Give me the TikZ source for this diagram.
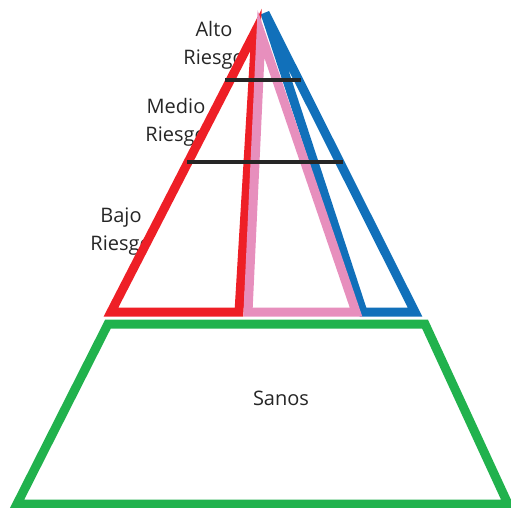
\documentclass[tikz,border=0pt]{standalone}
\usepackage{fontspec}
\setmainfont{Open Sans}
\definecolor{cred}{HTML}{EE1F26}
\definecolor{cpink}{HTML}{E78FBD}
\definecolor{cblue}{HTML}{1170BA}
\definecolor{cgreen}{HTML}{21B24D}
\definecolor{cbar}{HTML}{262626}
\definecolor{ctxt}{HTML}{262626}
\begin{document}
\begin{tikzpicture}[x=1pt,y=-1pt,
  edge/.style={line width=9pt, line join=miter, fill=white},
  bar/.style={line width=3.2pt, draw=cbar},
  lbl/.style={font=\fontsize{20}{28}\selectfont, text=ctxt, align=center, inner sep=0pt}]
\useasboundingbox (0,0) rectangle (511,508);
% labels (partly hidden by the red triangle)
\node[lbl] (alto) at (214,45) {Alto\\Riesgo};
\node[lbl] (medio) at (176,122) {Medio\\Riesgo};
\node[lbl] (bajo) at (121,232) {Bajo\\Riesgo};
% corner coordinates
\coordinate (bA) at (265,13);  \coordinate (bL) at (363,312); \coordinate (bR) at (415,312);
\coordinate (rA) at (256,30);  \coordinate (rL) at (111,312); \coordinate (rR) at (239,312);
\coordinate (pA) at (261,34);  \coordinate (pL) at (248,312); \coordinate (pR) at (356,312);
\coordinate (gTL) at (108,324); \coordinate (gTR) at (425,324);
\coordinate (gBR) at (508,504); \coordinate (gBL) at (17,504);
% triangles
\draw[edge, draw=cblue] (bA) -- (bR) -- (bL) -- cycle;
\draw[edge, draw=cred] (rA) -- (rR) -- (rL) -- cycle;
\draw[edge, draw=cpink] (pA) -- (pR) -- (pL) -- cycle;
% trapezoid
\draw[edge, draw=cgreen] (gTL) -- (gTR) -- (gBR) -- (gBL) -- cycle;
\node[lbl] (sanos) at (281,398) {Sanos};
% bars
\coordinate (u1) at (225,80); \coordinate (u2) at (301,80);
\coordinate (l1) at (187,162); \coordinate (l2) at (343,162);
\draw[bar] (u1) -- (u2);
\draw[bar] (l1) -- (l2);
\end{tikzpicture}
\end{document}
